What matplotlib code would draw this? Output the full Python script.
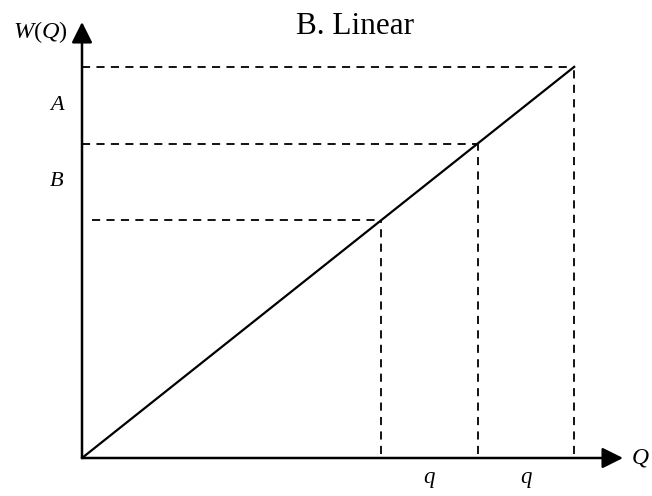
import matplotlib.pyplot as plt

# quantities on the Q axis and the matching W(Q) = Q values
q_points = [3.1, 4.1, 5.1]
w_points = [3.1, 4.1, 5.1]
band_labels = ['B', 'A']
q_labels = ['q', 'q']
title = 'B. Linear'

plt.rcParams['font.family'] = ['Liberation Serif', 'DejaVu Serif']
plt.rcParams['mathtext.fontset'] = 'custom'
plt.rcParams['mathtext.rm'] = 'Liberation Serif'
plt.rcParams['mathtext.it'] = 'Liberation Serif:italic'

fig = plt.figure(figsize=(6.52, 4.96), dpi=100)
ax = fig.add_axes([82 / 652, 38 / 496, 541 / 652, 436 / 496])
xmax, ymax = 5.606, 5.685
ax.set_xlim(0, xmax)
ax.set_ylim(0, ymax)
ax.axis('off')

# axes with arrows
arrow = dict(arrowstyle='-|>,head_length=0.9,head_width=0.45', color='black',
             lw=1.8, mutation_scale=14, shrinkA=0, shrinkB=0)
ax.annotate('', xy=(xmax, 0), xytext=(0, 0), arrowprops=arrow, annotation_clip=False)
ax.annotate('', xy=(0, ymax), xytext=(0, 0), arrowprops=arrow, annotation_clip=False)

# W(Q) line
ax.plot([0, q_points[-1]], [0, w_points[-1]], color='black', lw=1.6, clip_on=False)

# dashed guides
starts = [0.1, 0.0, 0.0]
for q, w, s in zip(q_points, w_points, starts):
    ax.plot([s, q], [w, w], color='black', lw=1.3, ls=(0, (4.5, 3.5)))
    ax.plot([q, q], [0.05, w], color='black', lw=1.3, ls=(0, (4.5, 3.5)))

# labels
for i, lab in enumerate(band_labels):
    ax.text(-0.26, (w_points[i] + w_points[i + 1]) / 2, lab, style='italic',
            fontsize=16, ha='center', va='center')
for i, lab in enumerate(q_labels):
    ax.text((q_points[i] + q_points[i + 1]) / 2, -0.25, lab, style='italic',
            fontsize=16.5, ha='center', va='center')

ax.text(-0.43, 5.55, r'$W\mathrm{(}Q\mathrm{)}$', fontsize=17.5, ha='center', va='center')
ax.text(xmax + 0.09, 0.0, 'Q', style='italic', fontsize=17, ha='left', va='center')
fig.text(355 / 652, 1 - 26 / 496, title, fontsize=22.5, ha='center', va='center')

fig.savefig('out.png', dpi=100)
